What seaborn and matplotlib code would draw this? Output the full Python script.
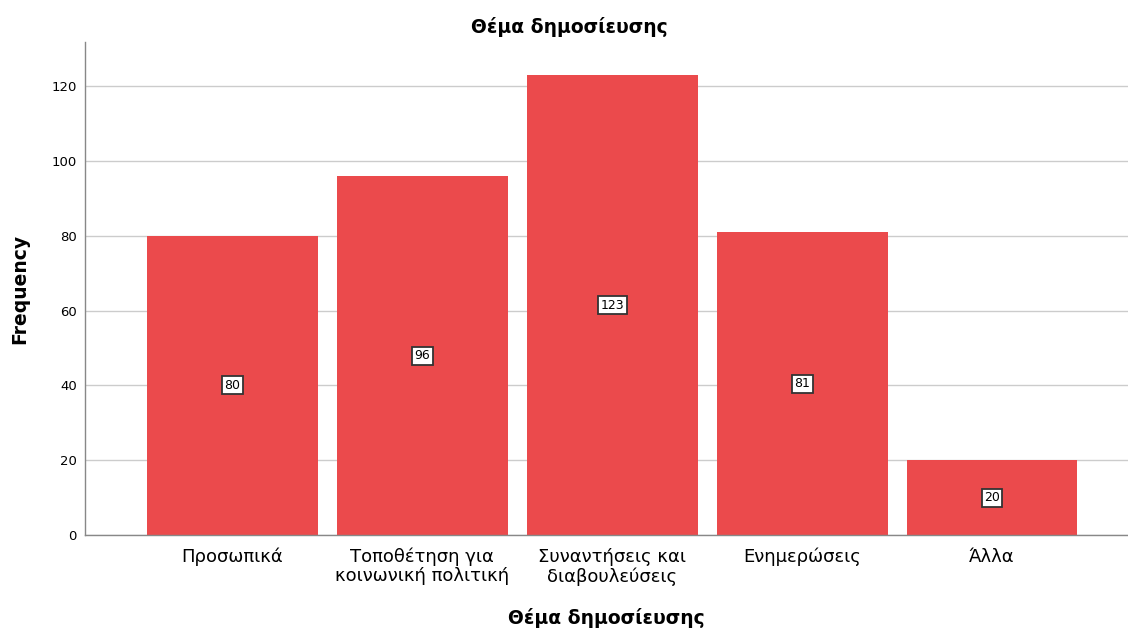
import matplotlib
matplotlib.use("Agg")
import matplotlib.pyplot as plt
import seaborn as sns
import pandas as pd

categories = ["Προσωπικά", "Τοποθέτηση για\nκοινωνική πολιτική", "Συναντήσεις και\nδιαβουλεύσεις", "Ενημερώσεις", "Άλλα"]
counts = [80, 96, 123, 81, 20]
yticks = [0, 20, 40, 60, 80, 100, 120]

sns.set_theme(style="white")
plt.rcParams['font.family'] = ['DejaVu Sans']
plt.rcParams['text.color'] = 'black'
plt.rcParams['xtick.color'] = 'black'
plt.rcParams['ytick.color'] = 'black'
plt.rcParams['axes.labelcolor'] = 'black'

df = pd.DataFrame({"cat": categories, "n": counts})
fig = plt.figure(figsize=(11.28, 6.28), dpi=100)
ax = fig.add_axes([0.0754, 0.148, 0.9246, 0.785])
sns.barplot(data=df, x="cat", y="n", color="#EB4A4C", saturation=1, width=0.9,
            linewidth=0, ax=ax, zorder=2)
ax.set_xlim(-0.776, 4.716)
ax.set_ylim(0, 131.8)
ax.set_yticks(yticks)
ax.set_yticklabels([str(t) for t in yticks], fontsize=9.5)
ax.tick_params(axis='x', labelsize=13, length=0, pad=9)
ax.tick_params(axis='y', length=0, pad=6)
for lbl in ax.get_xticklabels():
    lbl.set_linespacing(1.1)
ax.yaxis.grid(True, color="#cccccc", linewidth=1, zorder=0)
ax.set_axisbelow(True)
for s in ["top", "right"]:
    ax.spines[s].set_visible(False)
for s in ["left", "bottom"]:
    ax.spines[s].set_color("#888888")
    ax.spines[s].set_linewidth(1)
for i, v in enumerate(counts):
    ax.text(i, v / 2, str(v), ha="center", va="center", fontsize=9, zorder=5,
            bbox=dict(boxstyle="square,pad=0.2", facecolor="white", edgecolor="#333333", linewidth=1.3))
fig.suptitle("Θέμα δημοσίευσης", x=0.505, y=0.957, fontsize=13.5, fontweight="bold", va="center")
ax.set_xlabel("Θέμα δημοσίευσης", fontsize=13.5, fontweight="bold", labelpad=16)
ax.set_ylabel("Frequency", fontsize=13.5, fontweight="bold", labelpad=16)
fig.savefig("out.png", dpi=100)
